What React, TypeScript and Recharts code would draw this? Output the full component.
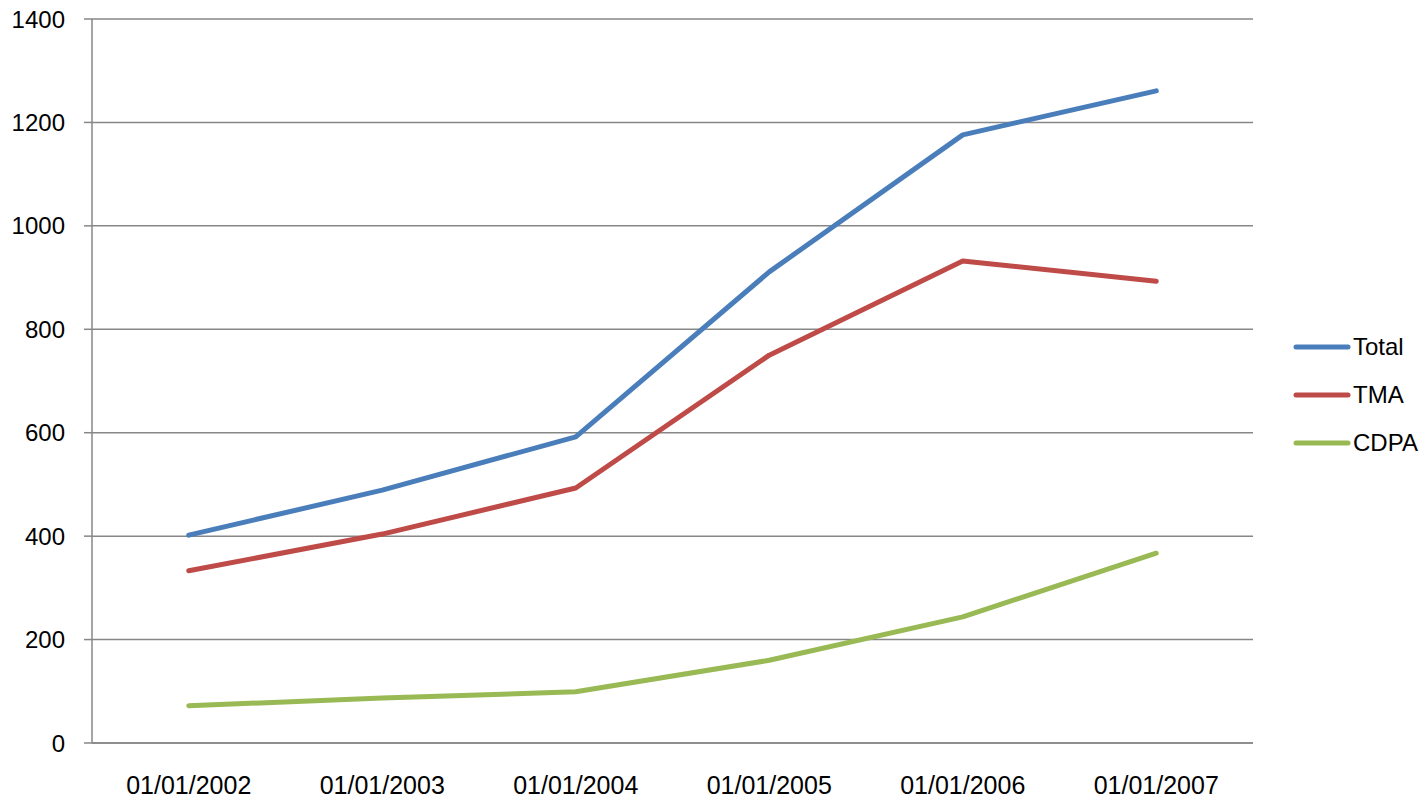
import { LineChart, Line, XAxis, YAxis, CartesianGrid, Legend } from "recharts";

const years = ["01/01/2002", "01/01/2003", "01/01/2004", "01/01/2005", "01/01/2006", "01/01/2007"];
const total = [402, 489, 592, 911, 1176, 1261];
const tma = [333, 404, 493, 750, 932, 893];
const cdpa = [72, 87, 99, 160, 244, 367];
const yTicks = [0, 200, 400, 600, 800, 1000, 1200, 1400];
const boundaryTicks = [0, 1, 2, 3, 4, 5, 6];

const series = [
  { key: "total", name: "Total", color: "#4A7EBB" },
  { key: "tma", name: "TMA", color: "#BE4B48" },
  { key: "cdpa", name: "CDPA", color: "#98B954" },
];

const data = years.map((d, i) => ({
  d,
  pos: i + 0.5,
  total: total[i],
  tma: tma[i],
  cdpa: cdpa[i],
}));

const gridColor = "#878787";
const font = "'Liberation Sans', Arial, sans-serif";

function LegendBox() {
  return (
    <div style={{ fontFamily: font, fontSize: 24, color: "#000" }}>
      {series.map((s) => (
        <div key={s.key} style={{ display: "flex", alignItems: "center", height: 48 }}>
          <svg width={58} height={10}>
            <line x1={3} y1={5} x2={55} y2={5} stroke={s.color} strokeWidth={5} strokeLinecap="round" />
          </svg>
          <span style={{ marginLeft: 2 }}>{s.name}</span>
        </div>
      ))}
    </div>
  );
}

export default function App() {
  return (
    <div style={{ position: "absolute", left: 0, top: 0, width: 1421, height: 801, background: "#fff" }}>
      <LineChart width={1421} height={801} data={data} margin={{ top: 19, right: 168, left: 0, bottom: 0 }}>
        <CartesianGrid vertical={false} stroke={gridColor} strokeWidth={1.5} />
        <XAxis
          type="number"
          dataKey="pos"
          domain={[0, 6]}
          ticks={boundaryTicks}
          tick={false}
          height={1}
          tickSize={8}
          stroke={gridColor}
          strokeWidth={1.5}
          axisLine={{ stroke: gridColor, strokeWidth: 1.5 }}
        />
        <XAxis
          xAxisId="c"
          dataKey="d"
          scale="band"
          height={57}
          axisLine={false}
          tickLine={false}
          tickSize={0}
          tickMargin={32}
          interval={0}
          tick={{ fill: "#000", fontSize: 25, fontFamily: font }}
        />
        <YAxis
          domain={[0, 1400]}
          ticks={yTicks}
          width={92}
          tickSize={8}
          tickMargin={19}
          stroke={gridColor}
          strokeWidth={1.5}
          tick={{ fill: "#000", fontSize: 24, fontFamily: font }}
        />
        <Legend
          layout="vertical"
          align="center"
          verticalAlign="middle"
          content={() => <LegendBox />}
          wrapperStyle={{ left: 1293, top: 323, width: 130 }}
        />
        {series.map((s) => (
          <Line
            key={s.key}
            xAxisId="c"
            dataKey={s.key}
            name={s.name}
            stroke={s.color}
            strokeWidth={5}
            strokeLinecap="round"
            strokeLinejoin="round"
            dot={false}
            activeDot={false}
            type="linear"
            isAnimationActive={false}
          />
        ))}
      </LineChart>
    </div>
  );
}
